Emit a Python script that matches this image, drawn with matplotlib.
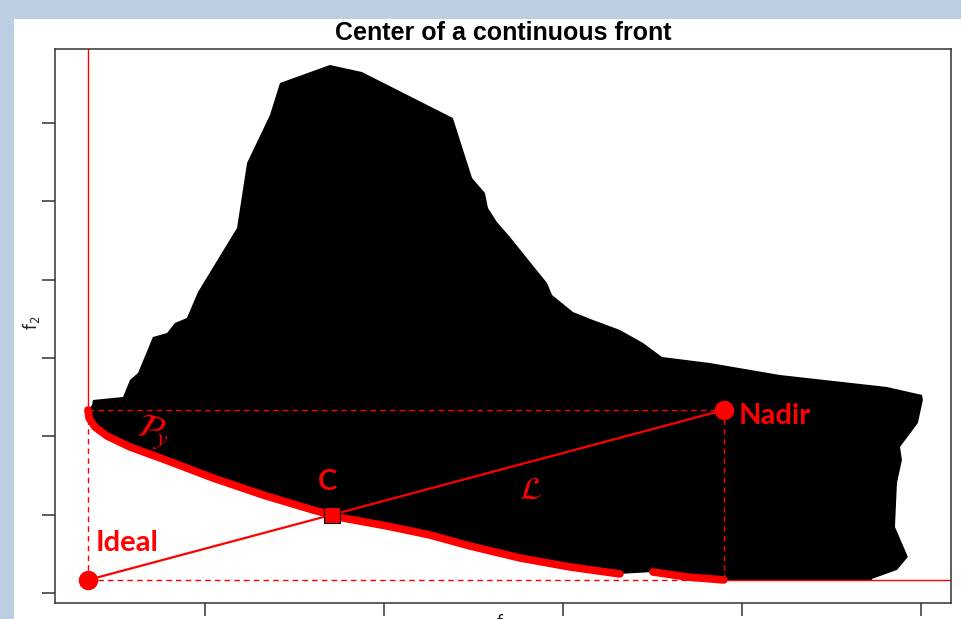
import matplotlib
matplotlib.use("Agg")
import matplotlib.pyplot as plt
from matplotlib.patches import Rectangle

# ---------------- data (f1, f2 units; ticks at f1 = 1..5, f2 = 0..6) ----------------
ideal = (0.346, 0.166)
nadir = (3.899, 2.336)
center = (1.709, 0.996)

# continuous Pareto front (two visible pieces)
front1_f1 = [0.346, 0.352, 0.385, 0.453, 0.581, 0.765, 1.045, 1.324, 1.603, 1.709,
             1.771, 2.017, 2.257, 2.480, 2.760, 3.039, 3.318]
front1_f2 = [2.336, 2.234, 2.119, 2.004, 1.864, 1.711, 1.468, 1.251, 1.060, 0.996,
             0.957, 0.855, 0.740, 0.600, 0.447, 0.332, 0.243]
front2_f1 = [3.503, 3.693, 3.899]
front2_f2 = [0.268, 0.204, 0.166]

# upper boundary of the dominated (black) region, left to right then down the right side
upper_f1 = [0.346, 0.369, 0.374, 0.542, 0.581, 0.626, 0.709, 0.788, 0.832, 0.899,
            0.961, 1.179, 1.235, 1.363, 1.419, 1.698, 1.877, 2.385, 2.492, 2.564,
            2.581, 2.631, 2.704, 2.816, 2.911, 2.939, 3.056, 3.168, 3.318, 3.447,
            3.553, 3.821, 4.212, 4.810, 5.006, 5.011, 4.983, 4.883, 4.894, 4.866,
            4.855, 4.927, 4.866, 4.726, 4.726]
upper_f2 = [2.336, 2.400, 2.464, 2.502, 2.719, 2.809, 3.268, 3.319, 3.447, 3.511,
            3.843, 4.660, 5.490, 6.102, 6.511, 6.741, 6.651, 6.064, 5.298, 5.107,
            4.915, 4.736, 4.545, 4.226, 3.958, 3.804, 3.587, 3.485, 3.358, 3.192,
            3.013, 2.936, 2.783, 2.630, 2.528, 2.464, 2.170, 1.864, 1.698, 1.404,
            0.843, 0.460, 0.294, 0.179, 0.166]

x_ticks = [1, 2, 3, 4, 5]
y_ticks = [0, 1, 2, 3, 4, 5, 6]
title = "Center of a continuous front"

# ---------------- figure ----------------
W, H = 961, 619
fig = plt.figure(figsize=(W / 100, H / 100), dpi=100, facecolor="#bccfe2")
fig.patches.append(Rectangle((14 / W, 0), 1, (H - 19) / H, transform=fig.transFigure,
                             facecolor="white", edgecolor="none", zorder=-5))

ax = fig.add_axes([55 / W, 16 / H, 896 / W, 554 / H])
ax.set_facecolor("white")
xlim = (0.162, 5.168)
ylim = (-0.128, 6.945)
ax.set_xlim(*xlim)
ax.set_ylim(*ylim)
ax.set_xticks(x_ticks)
ax.set_yticks(y_ticks)
ax.tick_params(direction="out", length=9.5, width=1.1, color="#333333",
               labelleft=False, labelbottom=False)
for s in ax.spines.values():
    s.set_color("#333333")
    s.set_linewidth(1.1)

# dominated region
poly_f1 = upper_f1 + front2_f1[::-1] + front1_f1[::-1]
poly_f2 = upper_f2 + front2_f2[::-1] + front1_f2[::-1]
ax.fill(poly_f1, poly_f2, color="black", lw=0, zorder=1)

red = "#ff0000"
# thin solid limits
ax.plot([ideal[0], ideal[0]], [nadir[1], ylim[1]], color=red, lw=1.0, zorder=2)
ax.plot([nadir[0], xlim[1]], [ideal[1], ideal[1]], color=red, lw=1.0, zorder=2)
# dashed box
dash = dict(color=red, lw=1.0, ls=(0, (4, 3)), zorder=2)
ax.plot([ideal[0], nadir[0]], [nadir[1], nadir[1]], **dash)
ax.plot([ideal[0], nadir[0]], [ideal[1], ideal[1]], **dash)
ax.plot([ideal[0], ideal[0]], [ideal[1], nadir[1]], **dash)
ax.plot([nadir[0], nadir[0]], [ideal[1], nadir[1]], **dash)

# front
ax.plot(front1_f1, front1_f2, color=red, lw=5.5, solid_capstyle="round", zorder=3)
ax.plot(front2_f1, front2_f2, color=red, lw=5.5, solid_capstyle="round", zorder=3)

# ideal - nadir line
ax.plot([ideal[0], nadir[0]], [ideal[1], nadir[1]], color=red, lw=1.6, zorder=4)

# points
ax.plot(*ideal, "o", ms=13, color=red, zorder=5)
ax.plot(*nadir, "o", ms=13, color=red, zorder=5)
ax.plot(*center, "s", ms=12, mfc=red, mec="black", mew=0.8, zorder=5)

lab = dict(color=red, fontsize=21, fontweight="bold", family="Lato",
           textcoords="offset pixels", zorder=6)
ax.annotate("Ideal", ideal, xytext=(8, 37), ha="left", va="center", **lab)
ax.annotate("Nadir", nadir, xytext=(15, -6), ha="left", va="center", **lab)
ax.annotate("C", center, xytext=(-4, 33), ha="center", va="center", **lab)

ax.text(2.82, 1.31, r"$\mathcal{L}$", color=red, fontsize=23, math_fontfamily="stix",
        ha="center", va="center", zorder=6)
ax.text(0.71, 2.05, r"$\mathcal{P}_{\!y}$", color=red, fontsize=25, math_fontfamily="stix",
        ha="center", va="center", rotation=-16, zorder=6)

fig.text(503 / W, (H - 33) / H, title, fontsize=18, fontweight="bold",
         family="Liberation Sans", ha="center", va="center")

fig.text(32 / W, (H - 323) / H, r"$\mathrm{f}_2$", rotation=90, ha="center", va="center",
         fontsize=12, color="#222222")
fig.text(503 / W, (H - 612) / H, r"$\mathrm{f}_1$", ha="center", va="top",
         fontsize=12, color="#222222")

fig.savefig("out.png", dpi=100, facecolor=fig.get_facecolor())
